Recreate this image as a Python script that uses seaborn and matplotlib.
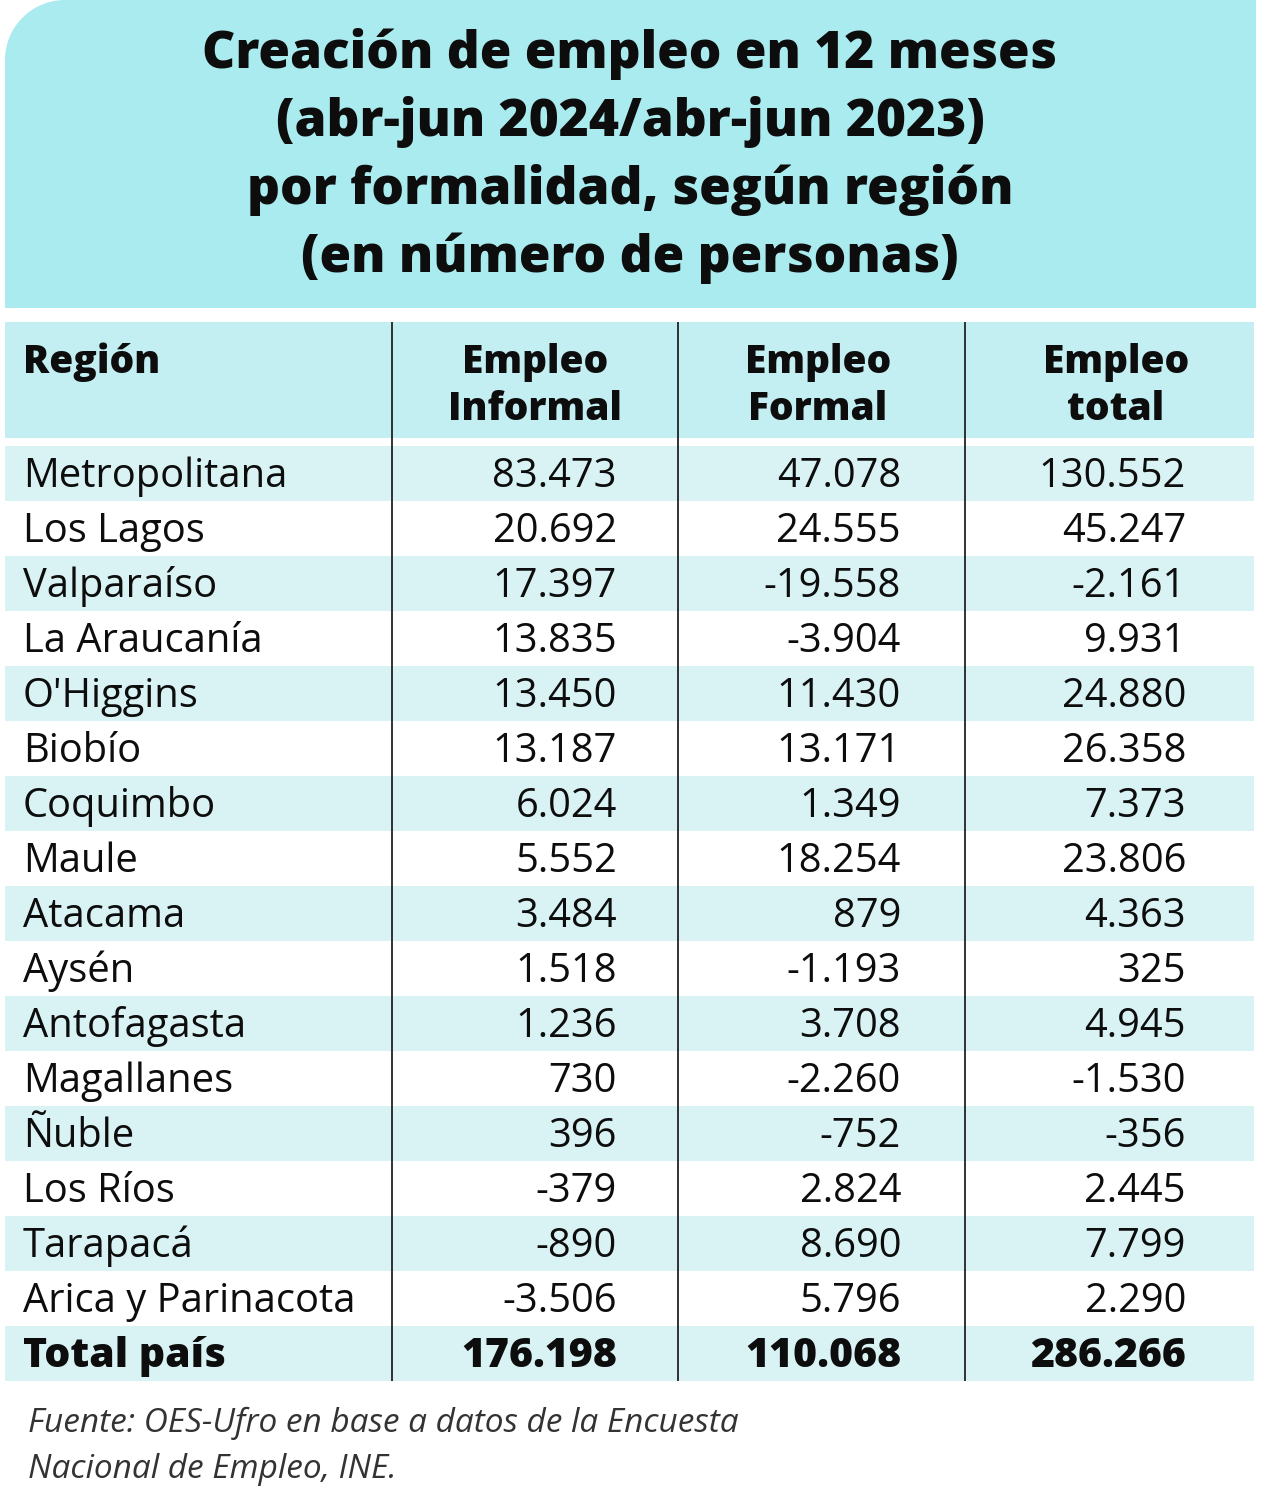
import numpy as np
import matplotlib
matplotlib.use("Agg")
import matplotlib.pyplot as plt
from matplotlib.colors import ListedColormap
from matplotlib.patches import Polygon, Rectangle
import seaborn as sns

# ---------------- data ----------------
title_lines = ["Creación de empleo en 12 meses",
               "(abr-jun 2024/abr-jun 2023)",
               "por formalidad, según región",
               "(en número de personas)"]
col_headers = ["Región", "Empleo\nInformal", "Empleo\nFormal", "Empleo\ntotal"]
regions = ["Metropolitana", "Los Lagos", "Valparaíso", "La Araucanía", "O'Higgins",
           "Biobío", "Coquimbo", "Maule", "Atacama", "Aysén", "Antofagasta",
           "Magallanes", "Ñuble", "Los Ríos", "Tarapacá", "Arica y Parinacota"]
informal = [83473, 20692, 17397, 13835, 13450, 13187, 6024, 5552, 3484, 1518,
            1236, 730, 396, -379, -890, -3506]
formal = [47078, 24555, -19558, -3904, 11430, 13171, 1349, 18254, 879, -1193,
          3708, -2260, -752, 2824, 8690, 5796]
total = [130552, 45247, -2161, 9931, 24880, 26358, 7373, 23806, 4363, 325,
         4945, -1530, -356, 2445, 7799, 2290]
total_label = "Total país"
total_row = [176198, 110068, 286266]
source_lines = ["Fuente: OES-Ufro en base a datos de la Encuesta",
                "Nacional de Empleo, INE."]

# ---------------- style ----------------
sns.set_theme(style="white")
plt.rcParams["font.family"] = ["Open Sans", "DejaVu Sans"]

TITLE_BG = "#a9ebee"
HEAD_BG = "#c3eef2"
STRIPE = "#d9f3f5"
INK = "#0d0d0d"
BODY_FS = 28.7
HEAD_FS = 28
TOTAL_FS = 29.5
HEAVY = 800

W, H = 1261, 1499
fig = plt.figure(figsize=(W / 100, H / 100), dpi=100)

# table rows layout (pixels)
ROW_TOP, ROW_H = 446, 55
n_rows = len(regions) + 1
TAB_L, TAB_R = 5, 1254
tab_bottom = ROW_TOP + ROW_H * n_rows

# striped row backgrounds with seaborn heatmap
stripes = np.array([[1 if i % 2 == 0 else 0] for i in range(n_rows)])
ax_tab = fig.add_axes([TAB_L / W, 1 - tab_bottom / H, (TAB_R - TAB_L) / W, (ROW_H * n_rows) / H])
sns.heatmap(stripes, cmap=ListedColormap(["white", STRIPE]), vmin=0, vmax=1,
            cbar=False, ax=ax_tab, xticklabels=False, yticklabels=False)
ax_tab.set_axis_off()

# overlay axes in pixel coordinates
ax = fig.add_axes([0, 0, 1, 1])
ax.set_xlim(0, W)
ax.set_ylim(H, 0)
ax.axis("off")

# title box with rounded top-left corner
r = 60
t = np.linspace(0, 1, 40)
arc = np.column_stack([5 + r - r * np.cos(t * np.pi / 2), r - r * np.sin(t * np.pi / 2)])
verts = np.vstack([[[5, 308]], arc, [[1256, 0], [1256, 308]]])
ax.add_patch(Polygon(verts, closed=True, facecolor=TITLE_BG, edgecolor="none", zorder=0))

for k, line in enumerate(title_lines):
    ax.text(630, 68 + 68 * k, line, ha="center", va="baseline", fontsize=37,
            fontweight=HEAVY, color=INK)

# header row
ax.add_patch(Rectangle((TAB_L, 322), TAB_R - TAB_L, 438 - 322, facecolor=HEAD_BG,
                       edgecolor="none", zorder=0))
ax.text(23, 373, col_headers[0], ha="left", va="baseline", fontsize=HEAD_FS,
        fontweight=HEAVY, color=INK)
centers = [535, 818, 1116]
for c, hdr in zip(centers, col_headers[1:]):
    l1, l2 = hdr.split("\n")
    ax.text(c, 373, l1, ha="center", va="baseline", fontsize=HEAD_FS, fontweight=HEAVY, color=INK)
    ax.text(c, 420, l2, ha="center", va="baseline", fontsize=HEAD_FS, fontweight=HEAVY, color=INK)

def fmt(v):
    return f"{v:,}".replace(",", ".")

rights = [617, 901, 1186]
for i, reg in enumerate(regions):
    yb = ROW_TOP + ROW_H * i + 41
    ax.text(23, yb, reg, ha="left", va="baseline", fontsize=BODY_FS, color=INK)
    for xr, v in zip(rights, (informal[i], formal[i], total[i])):
        ax.text(xr, yb, fmt(v), ha="right", va="baseline", fontsize=BODY_FS, color=INK)

yb = ROW_TOP + ROW_H * len(regions) + 41
ax.text(23, yb, total_label, ha="left", va="baseline", fontsize=TOTAL_FS, fontweight=HEAVY, color=INK)
for xr, v in zip(rights, total_row):
    ax.text(xr, yb, fmt(v), ha="right", va="baseline", fontsize=TOTAL_FS, fontweight=HEAVY, color=INK)

# vertical separators
ax.vlines([392, 678, 965], 322, tab_bottom, colors="#222222", linewidth=1.3, zorder=3)

# source
for k, line in enumerate(source_lines):
    ax.text(28, 1432 + 46 * k, line, ha="left", va="baseline", fontsize=24,
            fontstyle="italic", color="#333333")

fig.savefig("out.png", dpi=100)
